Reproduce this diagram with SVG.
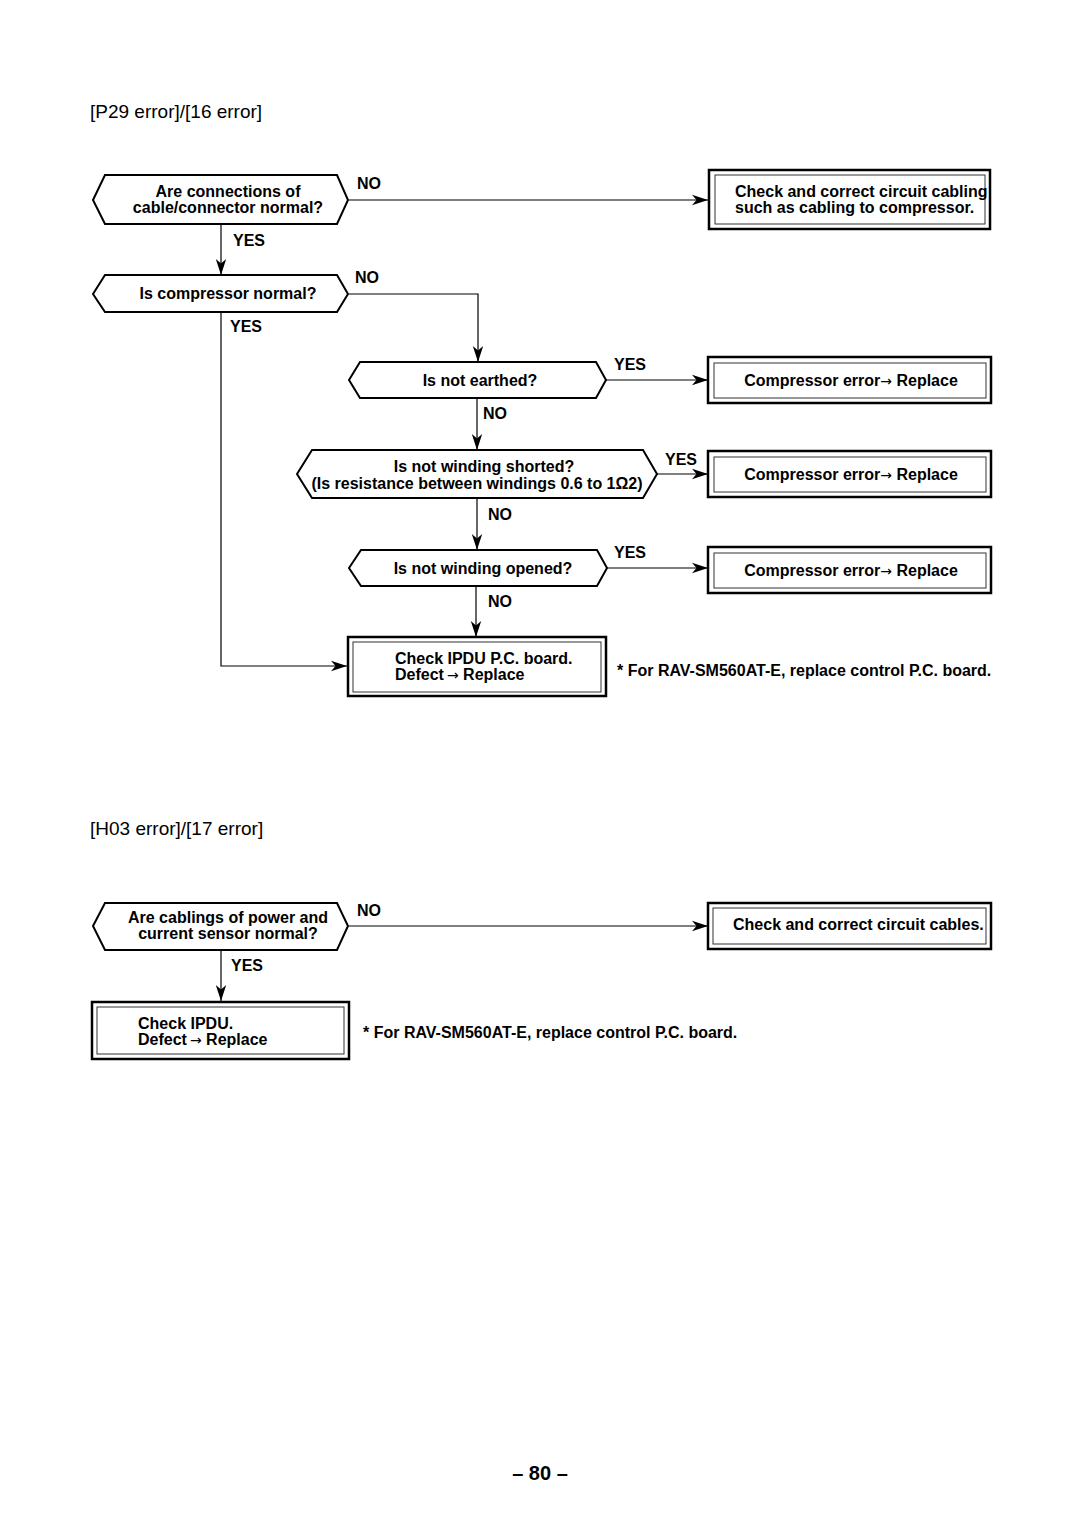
<svg xmlns="http://www.w3.org/2000/svg" width="1080" height="1525" viewBox="0 0 1080 1525">
<style>
.t{font-family:"Liberation Sans",Arial,sans-serif;font-weight:bold;font-size:16px;fill:#000}
.c{text-anchor:middle}
.ar{font-family:"DejaVu Sans",sans-serif;font-weight:normal;font-size:14px}
.title{font-family:"Liberation Sans",Arial,sans-serif;font-size:19px;fill:#000}
.dec{fill:#fff;stroke:#000;stroke-width:2}
.bo{fill:#fff;stroke:#000;stroke-width:2.5}
.bi{fill:none;stroke:#333;stroke-width:1}
.ln{fill:none;stroke:#000;stroke-width:1.2}
</style>
<defs>
<marker id="ah" markerUnits="userSpaceOnUse" markerWidth="18" markerHeight="12" refX="16" refY="6" orient="auto">
<path d="M0,0.8 L16,6 L0,11.2 L4.5,6 Z" fill="#000"/>
</marker>
</defs>
<rect width="1080" height="1525" fill="#fff"/>
<text class="title" x="90" y="118">[P29 error]/[16 error]</text>
<text class="title" x="90" y="835">[H03 error]/[17 error]</text>

<g id="connectors">
<polyline class="ln" points="221,224 221,275" marker-end="url(#ah)"/>
<polyline class="ln" points="349,200 708,200" marker-end="url(#ah)"/>
<polyline class="ln" points="349,294 478,294 478,362" marker-end="url(#ah)"/>
<polyline class="ln" points="221,312 221,666 347,666" marker-end="url(#ah)"/>
<polyline class="ln" points="606,380 708,380" marker-end="url(#ah)"/>
<polyline class="ln" points="477,398 477,450" marker-end="url(#ah)"/>
<polyline class="ln" points="657,474 708,474" marker-end="url(#ah)"/>
<polyline class="ln" points="477,498 477,550" marker-end="url(#ah)"/>
<polyline class="ln" points="607,568 708,568" marker-end="url(#ah)"/>
<polyline class="ln" points="476,586 476,637" marker-end="url(#ah)"/>
<polyline class="ln" points="349,926 708,926" marker-end="url(#ah)"/>
<polyline class="ln" points="221,950 221,1001" marker-end="url(#ah)"/>
<text class="t" x="357" y="189">NO</text>
<text class="t" x="233" y="246">YES</text>
<text class="t" x="355" y="283">NO</text>
<text class="t" x="230" y="332">YES</text>
<text class="t" x="614" y="370">YES</text>
<text class="t" x="483" y="419">NO</text>
<text class="t" x="665" y="465">YES</text>
<text class="t" x="488" y="520">NO</text>
<text class="t" x="614" y="558">YES</text>
<text class="t" x="488" y="607">NO</text>
<text class="t" x="357" y="916">NO</text>
<text class="t" x="231" y="971">YES</text>
</g>

<g id="d1">
<polygon class="dec" points="93,200 105,175 337,175 348,200 337,224 105,224"/>
<text class="t c" x="228" y="197">Are connections of</text>
<text class="t c" x="228" y="213">cable/connector normal?</text>
</g>
<g id="b1">
<rect class="bo" x="709" y="170" width="281" height="59"/>
<rect class="bi" x="715" y="175" width="270" height="49"/>
<text class="t" x="735" y="197">Check and correct circuit cabling</text>
<text class="t" x="735" y="213">such as cabling to compressor.</text>
</g>
<g id="d2">
<polygon class="dec" points="93,294 105,275 337,275 348,294 337,312 105,312"/>
<text class="t c" x="228" y="299">Is compressor normal?</text>
</g>
<g id="d3">
<polygon class="dec" points="349,380 360,362 596,362 606,380 596,398 360,398"/>
<text class="t c" x="480" y="386">Is not earthed?</text>
</g>
<g id="b2">
<rect class="bo" x="708" y="357" width="283" height="46"/>
<rect class="bi" x="714" y="363" width="272" height="35"/>
<text class="t c" x="851" y="386">Compressor error<tspan class="ar">→</tspan> Replace</text>
</g>
<g id="d4">
<polygon class="dec" points="297,474 312,450 643,450 657,474 643,498 312,498"/>
<text class="t c" x="484" y="472">Is not winding shorted?</text>
<text class="t c" x="477" y="489">(Is resistance between windings 0.6 to 1Ω2)</text>
</g>
<g id="b3">
<rect class="bo" x="708" y="451" width="283" height="46"/>
<rect class="bi" x="714" y="457" width="272" height="35"/>
<text class="t c" x="851" y="480">Compressor error<tspan class="ar">→</tspan> Replace</text>
</g>
<g id="d5">
<polygon class="dec" points="349,568 361,550 597,550 607,568 597,586 361,586"/>
<text class="t c" x="483" y="574">Is not winding opened?</text>
</g>
<g id="b4">
<rect class="bo" x="708" y="547" width="283" height="46"/>
<rect class="bi" x="714" y="553" width="272" height="35"/>
<text class="t c" x="851" y="576">Compressor error<tspan class="ar">→</tspan> Replace</text>
</g>
<g id="b5">
<rect class="bo" x="348" y="637" width="258" height="59"/>
<rect class="bi" x="353" y="642" width="248" height="50"/>
<text class="t" x="395" y="664">Check IPDU P.C. board.</text>
<text class="t" x="395" y="680">Defect<tspan class="ar" dx="3">→</tspan> Replace</text>
</g>
<g id="n1">
<text class="t" x="617" y="676">* For RAV-SM560AT-E, replace control P.C. board.</text>
</g>

<g id="d6">
<polygon class="dec" points="93,926 105,903 337,903 348,926 337,950 105,950"/>
<text class="t c" x="228" y="923">Are cablings of power and</text>
<text class="t c" x="228" y="939">current sensor normal?</text>
</g>
<g id="b6">
<rect class="bo" x="708" y="903" width="283" height="46"/>
<rect class="bi" x="713" y="908" width="273" height="36"/>
<text class="t" x="733" y="930">Check and correct circuit cables.</text>
</g>
<g id="b7">
<rect class="bo" x="92" y="1002" width="257" height="57"/>
<rect class="bi" x="97" y="1007" width="247" height="47"/>
<text class="t" x="138" y="1029">Check IPDU.</text>
<text class="t" x="138" y="1045">Defect<tspan class="ar" dx="3">→</tspan> Replace</text>
</g>
<g id="n2">
<text class="t" x="363" y="1038">* For RAV-SM560AT-E, replace control P.C. board.</text>
</g>
<text x="540" y="1480" text-anchor="middle" style="font-family:'Liberation Sans',Arial,sans-serif;font-weight:bold;font-size:20px">– 80 –</text>
</svg>
